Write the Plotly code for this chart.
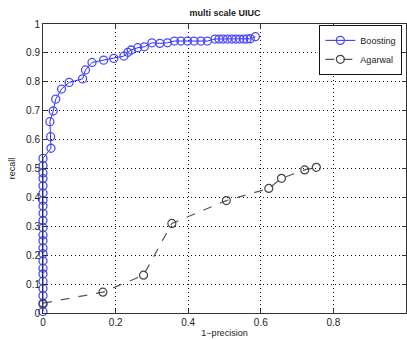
import plotly.graph_objects as go

boost_x = [0, 0, 0, 0, 0, 0, 0, 0, 0, 0, 0, 0, 0, 0, 0, 0, 0, 0, 0, 0, 0, 0, 0,
           0.022, 0.021, 0.019, 0.028, 0.035, 0.051, 0.072, 0.109, 0.117, 0.135,
           0.167, 0.195, 0.223, 0.234, 0.243, 0.261, 0.279, 0.300, 0.322, 0.343,
           0.362, 0.380, 0.398, 0.416, 0.435, 0.453, 0.474, 0.485, 0.496, 0.508,
           0.520, 0.531, 0.542, 0.553, 0.562, 0.571, 0.585]
boost_y = [0.005, 0.03, 0.06, 0.085, 0.11, 0.135, 0.155, 0.18, 0.205, 0.225, 0.25,
           0.27, 0.295, 0.32, 0.345, 0.37, 0.39, 0.415, 0.44, 0.465, 0.485, 0.51, 0.535,
           0.57, 0.61, 0.662, 0.699, 0.74, 0.775, 0.798, 0.81, 0.841, 0.867,
           0.875, 0.881, 0.889, 0.902, 0.91, 0.918, 0.921, 0.935, 0.933, 0.935,
           0.941, 0.941, 0.941, 0.941, 0.941, 0.941, 0.948, 0.948, 0.948, 0.948,
           0.948, 0.948, 0.948, 0.948, 0.948, 0.949, 0.956]

agar_x = [0.0, 0.165, 0.277, 0.355, 0.505, 0.622, 0.657, 0.721, 0.753]
agar_y = [0.034, 0.072, 0.131, 0.31, 0.389, 0.431, 0.466, 0.495, 0.504]

x_ticks = [0, 0.2, 0.4, 0.6, 0.8, 1]
x_labels = ["0", "0.2", "0.4", "0.6", "0.8", "1"]
y_ticks = [0, 0.1, 0.2, 0.3, 0.4, 0.5, 0.6, 0.7, 0.8, 0.9, 1]
y_labels = ["0", "0.1", "0.2", "0.3", "0.4", "0.5", "0.6", "0.7", "0.8", "0.9", "1"]

font = "Liberation Sans, Arial, sans-serif"

fig = go.Figure()
fig.add_trace(go.Scatter(
    x=boost_x, y=boost_y, name="Boosting", mode="lines+markers",
    line=dict(color="#2b2bff", width=1),
    marker=dict(symbol="circle-open", size=8, color="#4a4aff", line=dict(width=1.3)),
    cliponaxis=False,
))
fig.add_trace(go.Scatter(
    x=agar_x, y=agar_y, name="Agarwal", mode="lines+markers",
    line=dict(color="#555555", width=1.2, dash="dash"),
    marker=dict(symbol="circle-open", size=8, color="#444444", line=dict(width=1.2)),
    cliponaxis=False,
))

axis_common = dict(
    showline=True, linecolor="#333333", linewidth=1, mirror="ticks",
    ticks="inside", ticklen=4, tickcolor="#333333",
    showgrid=True, gridcolor="#111111", gridwidth=1, griddash="1px,3px",
    zeroline=False,
    tickfont=dict(family=font, size=10, color="#222222"),
)

fig.update_xaxes(range=[0, 1], tickvals=x_ticks, ticktext=x_labels,
                 title=dict(text="1\u2212precision", font=dict(family=font, size=9, color="#222222"), standoff=2),
                 **axis_common)
fig.update_yaxes(range=[0, 1], tickvals=y_ticks, ticktext=y_labels,
                 title=dict(text="recall", font=dict(family=font, size=9, color="#222222"), standoff=8),
                 **axis_common)

fig.update_layout(
    width=407, height=340,
    margin=dict(l=43, r=1, t=24, b=27),
    paper_bgcolor="white", plot_bgcolor="white",
    title=dict(text="<b>multi scale UIUC</b>", x=0.553, xanchor="center", y=0.962, yanchor="middle",
               font=dict(family=font, size=9, color="#222222")),
    showlegend=True,
    legend=dict(x=0.99, xanchor="right", y=0.997, yanchor="top",
                bgcolor="white", bordercolor="#111111", borderwidth=1,
                font=dict(family=font, size=9, color="#222222"),
                itemwidth=30, tracegroupgap=0),
)

fig.write_html("out.html")
